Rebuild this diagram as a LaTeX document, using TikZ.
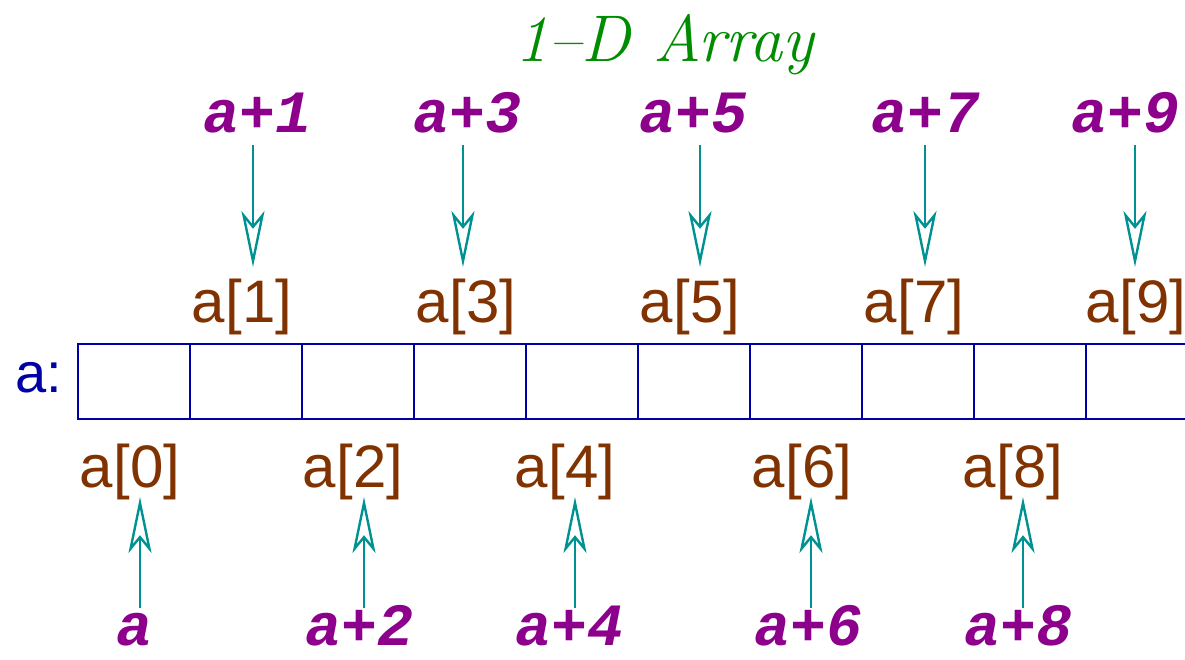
\documentclass[tikz,border=0pt]{standalone}
\usepackage{fontspec}
\newfontfamily\lsans{Liberation Sans}
\newfontfamily\lmono{Liberation Mono}
\usetikzlibrary{arrows.meta}
\definecolor{ttl}{RGB}{0,140,0}
\definecolor{ptrc}{RGB}{140,0,140}
\definecolor{elc}{RGB}{128,50,0}
\definecolor{arrc}{RGB}{0,146,146}
\definecolor{cellc}{RGB}{0,0,165}
\tikzset{
  cellbox/.style={draw=cellc,line width=2pt,minimum width=112pt,minimum height=75pt,inner sep=0pt,outer sep=0pt},
  elname/.style={text=elc,font=\lsans\fontsize{60}{60}\selectfont,inner sep=0pt,anchor=base},
  ptrname/.style={text=ptrc,font=\lmono\bfseries\itshape\fontsize{60}{60}\selectfont,inner sep=0pt,text depth=0pt,anchor=base},
  ptrarrow/.style={draw=arrc,line width=2.4pt,-{Stealth[open,length=56pt,width=23pt,inset=14pt,line width=2.4pt]}},
}
\begin{document}
\begin{tikzpicture}[x=1pt,y=-1pt]
\useasboundingbox (0,0) rectangle (1185,660);
\clip (0,0) rectangle (1185,660);
\node[text=ttl,font=\fontsize{66}{66}\selectfont\itshape,inner sep=0pt,anchor=base] (title) at (665,62) {1--D Array};
\node[text=cellc,font=\lsans\fontsize{56}{56}\selectfont,inner sep=0pt,anchor=base] (aname) at (39,392) {a:};
\foreach \i in {0,...,9} {
  \node[cellbox] (c\i) at ({134+112*\i},381.5) {};
}
% upper labels
\foreach \i/\lx/\px/\ax in {1/242/258/253, 3/466/468/463, 5/690/693/700, 7/914/925/925, 9/1136/1125/1135} {
  \node[elname] (l\i) at (\lx,322) {a[\i]};
  \node[ptrname] (p\i) at (\px,133) {a+\i};
  \coordinate (s\i) at (\ax,145);
  \coordinate (e\i) at (\ax,267);
  \draw[ptrarrow] (s\i) -- (e\i);
}
% lower labels
\node[elname] (l0) at (130,487) {a[0]};
\node[ptrname] (p0) at (135,645) {a};
\coordinate (s0) at (140,608);
\coordinate (e0) at (140,497);
\draw[ptrarrow] (s0) -- (e0);
\foreach \i/\lx/\px/\ax in {2/353/360/364, 4/565/570/575, 6/802/808/811, 8/1013/1018/1023} {
  \node[elname] (l\i) at (\lx,487) {a[\i]};
  \node[ptrname] (p\i) at (\px,645) {a+\i};
  \coordinate (s\i) at (\ax,608);
  \coordinate (e\i) at (\ax,497);
  \draw[ptrarrow] (s\i) -- (e\i);
}
\end{tikzpicture}
\end{document}
